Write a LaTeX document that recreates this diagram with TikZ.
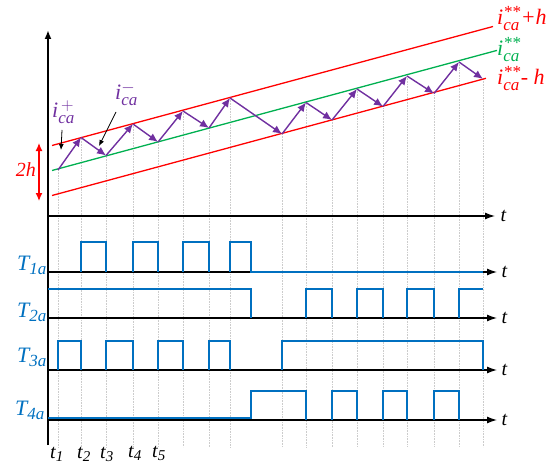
\documentclass[tikz,border=0pt]{standalone}
\usepackage{amsmath}
\usepackage{fontspec}
\setmainfont{Liberation Serif}
\DeclareMathSizes{22}{22}{17}{13}
\DeclareMathSizes{20}{20}{15}{12}
\usetikzlibrary{arrows.meta}
\definecolor{cred}{RGB}{255,0,0}
\definecolor{cgreen}{RGB}{0,176,80}
\definecolor{cpurple}{RGB}{112,48,160}
\definecolor{cblue}{RGB}{0,112,192}
\begin{document}
\begin{tikzpicture}[x=1pt,y=-1pt,
 axis/.style={black,line width=1.3pt,-{Latex[length=10pt,width=7pt]}},
 gridl/.style={gray!40,line width=0.6pt,densely dotted},
 sig/.style={cblue,line width=1.7pt},
 cur/.style={cpurple,line width=1.4pt,-{Latex[length=9pt,width=8pt]}},
 band/.style={line width=1.3pt},
 lbl/.style={font=\fontsize{20}{20}\selectfont,inner sep=0pt},
 big/.style={font=\fontsize{22}{22}\selectfont,inner sep=0pt},
 ann/.style={black,line width=0.8pt,-{Latex[length=6pt,width=5pt]}}
]
\useasboundingbox (0,0) rectangle (554,468);

% current vertices
\coordinate (v0) at (58,170);
\coordinate (v1) at (81,137.5);
\coordinate (v2) at (106,155.5);
\coordinate (v3) at (133,124);
\coordinate (v4) at (158,142);
\coordinate (v5) at (183,111);
\coordinate (v6) at (209,128);
\coordinate (v7) at (230,98);
\coordinate (v8) at (282,134);
\coordinate (v9) at (306,102.5);
\coordinate (v10) at (332,120);
\coordinate (v11) at (357,89);
\coordinate (v12) at (383,106.5);
\coordinate (v13) at (407,76);
\coordinate (v14) at (434,93.5);
\coordinate (v15) at (459,62);
\coordinate (v16) at (483,79);

% grid lines
\foreach \i in {0,...,16}{
  \draw[gridl] (v\i) -- (v\i |- 0,447);
}

% axes
\draw[black,line width=2pt,-{Latex[length=9pt,width=7pt]}] (48,445) -- (48,30);
\draw[axis] (48,216) -- (495,216) node[lbl,anchor=west,xshift=5pt] (ta0) {\textit{t}};
\draw[axis] (48,272) -- (497,272) node[lbl,anchor=west,xshift=4pt] (ta1) {\textit{t}};
\draw[axis] (48,318) -- (497,318) node[lbl,anchor=west,xshift=4pt] (ta2) {\textit{t}};
\draw[axis] (48,370) -- (497,370) node[lbl,anchor=west,xshift=4pt] (ta3) {\textit{t}};
\draw[axis] (48,420) -- (497,420) node[lbl,anchor=west,xshift=4pt] (ta4) {\textit{t}};

% bands
\draw[band,cred] (52,145.5) -- (493,26.5);
\draw[band,cgreen] (52,170.5) -- (497,50.4);
\draw[band,cred] (52,195.5) -- (486,78.3);

% current zigzag
\foreach \i [evaluate=\i as \j using int(\i+1)] in {0,...,15}{
  \draw[cur] (v\i) -- (v\j);
}

% 2h
\draw[cred,line width=1.3pt,{Latex[length=8pt,width=7pt]}-{Latex[length=8pt,width=7pt]}] (39,143) -- (39,201);
\node[lbl,text=cred,anchor=base east] (h2) at (36,176) {\textit{2h}};

% current labels
\node[big,text=cpurple,anchor=base west] (ip) at (52,118) {$\textit{i}^{\,+}_{\textit{ca}}$};
\node[big,text=cpurple,anchor=base west] (im) at (115,100) {$\textit{i}^{-}_{\textit{ca}}$};
\coordinate (ipa) at (62,130);
\coordinate (ipb) at (61,150);
\draw[ann] (ipa) -- (ipb);
\coordinate (ima) at (116,112);
\coordinate (imb) at (99,146);
\draw[ann] (ima) -- (imb);

\node[big,text=cred,anchor=base west] (lu) at (497,25) {$\textit{i}^{\textit{**}}_{\textit{ca}}$\textit{+h}};
\node[big,text=cgreen,anchor=base west] (lg) at (497,56) {$\textit{i}^{\textit{**}}_{\textit{ca}}$};
\node[big,text=cred,anchor=base west] (ll) at (497,85) {$\textit{i}^{\textit{**}}_{\textit{ca}}$\textit{- h}};

% T labels
\node[big,text=cblue,anchor=base west] (T1) at (17,270) {$\textit{T}_{\textit{1a}}$};
\node[big,text=cblue,anchor=base west] (T2) at (17,317) {$\textit{T}_{\textit{2a}}$};
\node[big,text=cblue,anchor=base west] (T3) at (17,362) {$\textit{T}_{\textit{3a}}$};
\node[big,text=cblue,anchor=base west] (T4) at (15,415) {$\textit{T}_{\textit{4a}}$};

% t labels at bottom
\node[lbl,anchor=base west] (t1) at (50,458) {$\textit{t}_{\textit{1}}$};
\node[lbl,anchor=base west] (t2) at (77,458) {$\textit{t}_{\textit{2}}$};
\node[lbl,anchor=base west] (t3) at (100,458) {$\textit{t}_{\textit{3}}$};
\node[lbl,anchor=base west] (t4) at (128,457) {$\textit{t}_{\textit{4}}$};
\node[lbl,anchor=base west] (t5) at (152,457) {$\textit{t}_{\textit{5}}$};

% T1a
\foreach \a/\b in {81/106,133/158,183/209}{
  \draw[sig] (\a,272) -- (\a,242) -- (\b,242) -- (\b,272);
}
\draw[sig] (230,272) -- (230,242) -- (251,242) -- (251,272) -- (483,272);
% T2a
\draw[sig] (48,289) -- (251,289) -- (251,318);
\foreach \a/\b in {306/332,357/383,407/434}{
  \draw[sig] (\a,318) -- (\a,289) -- (\b,289) -- (\b,318);
}
\draw[sig] (459,318) -- (459,289) -- (483,289);
% T3a
\foreach \a/\b in {58/81,106/133,158/183,209/230}{
  \draw[sig] (\a,370) -- (\a,341) -- (\b,341) -- (\b,370);
}
\draw[sig] (282,370) -- (282,341) -- (483,341) -- (483,370);
% T4a
\draw[sig] (48,418) -- (251,418) -- (251,391) -- (306,391) -- (306,420);
\foreach \a/\b in {332/357,383/407,434/459}{
  \draw[sig] (\a,420) -- (\a,391) -- (\b,391) -- (\b,420);
}
\end{tikzpicture}
\end{document}
